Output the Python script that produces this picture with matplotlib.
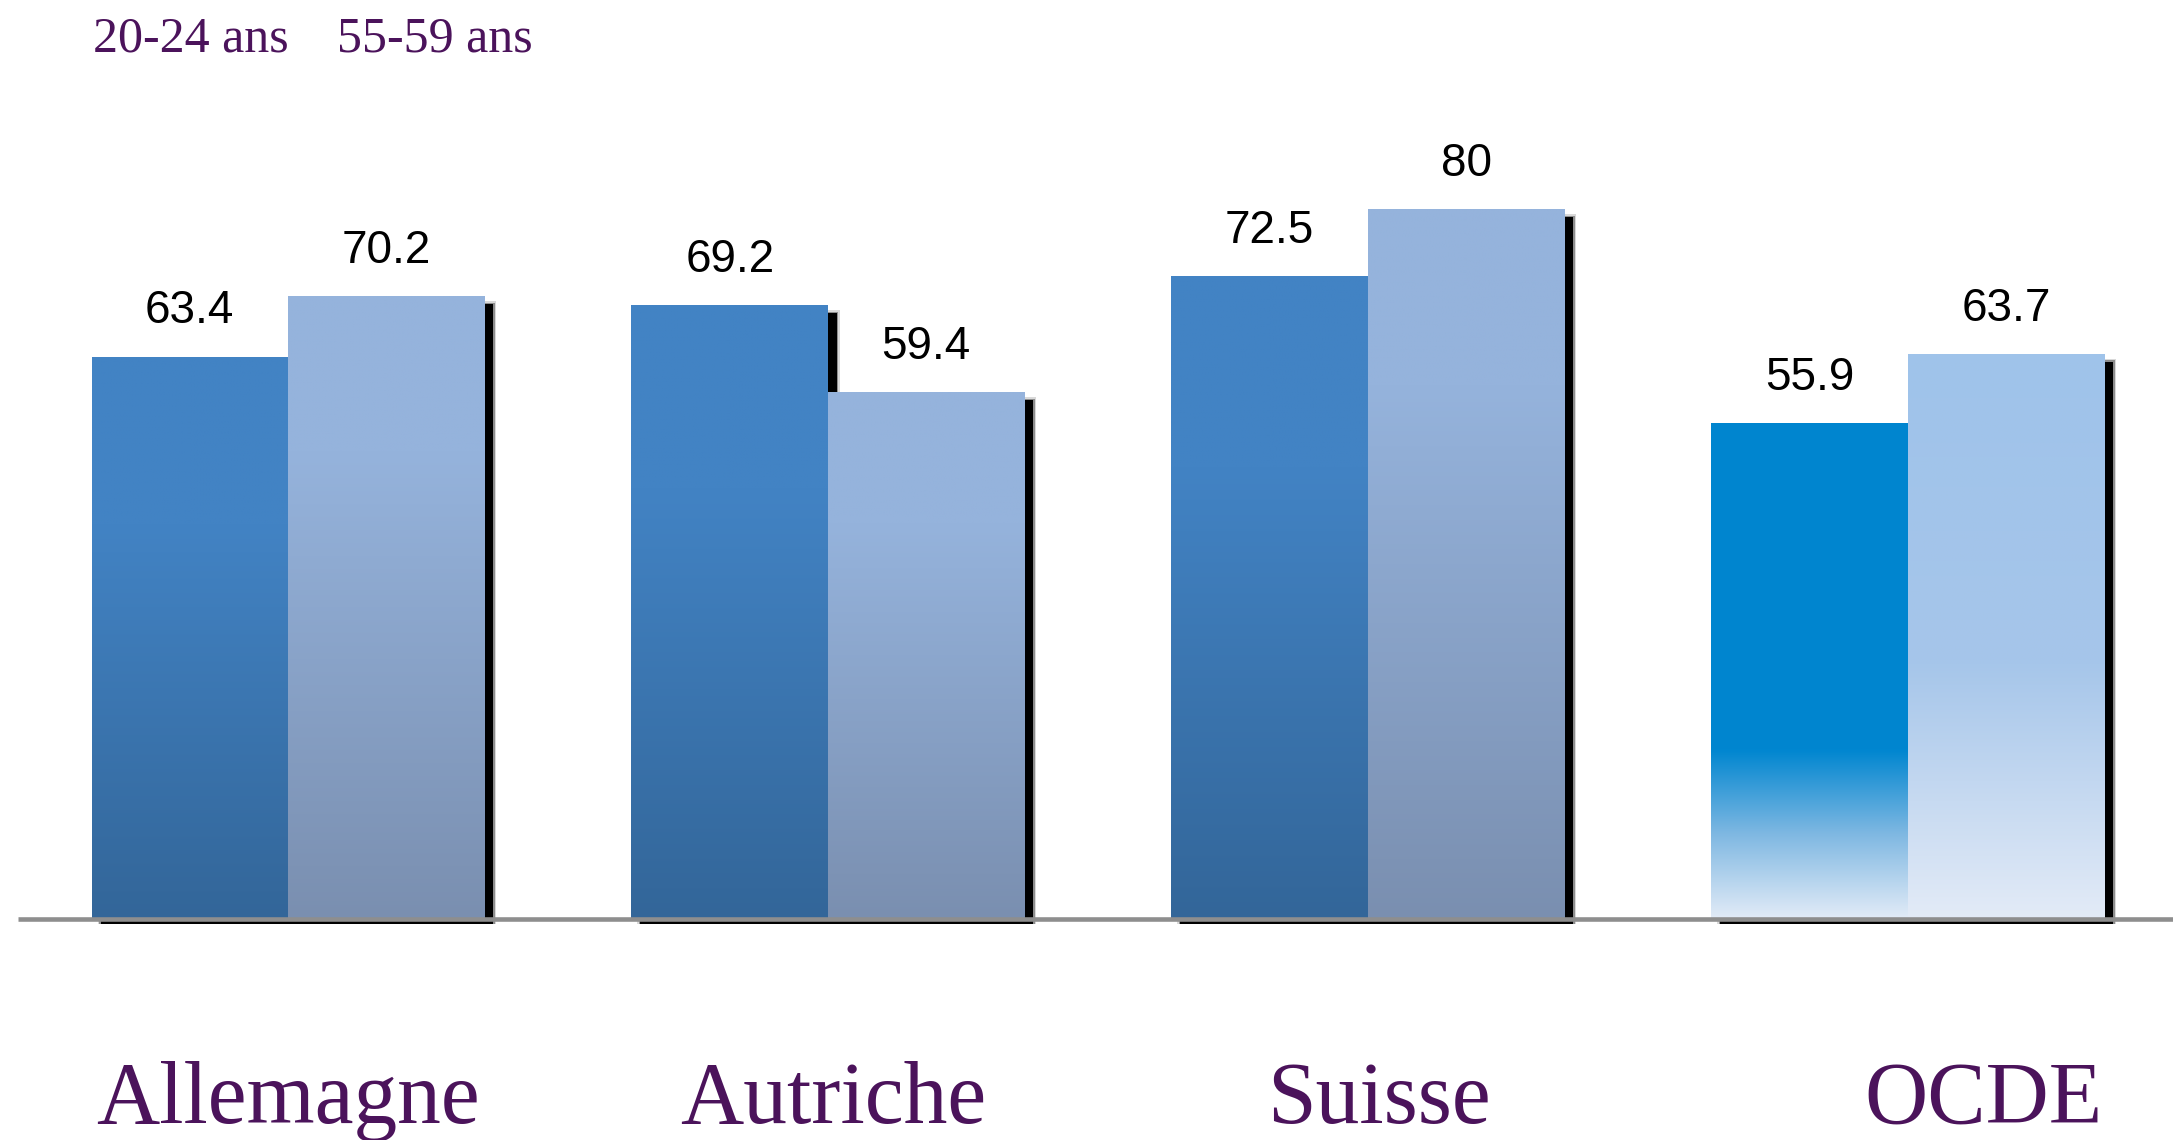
import matplotlib
matplotlib.use("Agg")
import matplotlib.pyplot as plt
import numpy as np
from matplotlib.colors import LinearSegmentedColormap
from matplotlib.patches import Rectangle

# data
pays = ['Allemagne', 'Autriche', 'Suisse', 'OCDE']
series = ['20-24 ans', '55-59 ans']
v_2024 = [63.4, 69.2, 72.5, 55.9]
v_5559 = [70.2, 59.4, 80, 63.7]

purple = '#4B135B'
# gradient stops from top (0) to bottom (1) of each bar
grad_dark = [(0, '#4283C4'), (0.3, '#4283C4'), (1, '#336699')]
grad_light = [(0, '#95B3DC'), (0.25, '#95B3DC'), (1, '#7A8FB0')]
grad_dark_ocde = [(0, '#0085CF'), (0.66, '#0086D0'), (0.83, '#7FB8E2'), (1, '#E2EBF7')]
grad_light_ocde = [(0, '#9FC3EA'), (0.55, '#A6C6EA'), (1, '#E3EBF7')]

# layout (pixels of the 2173x1140 figure)
W, H = 2173, 1140
base_px = 919          # baseline from top
ppu = 8.87             # pixels per unit on y
grp_px = 540           # pixels between groups
x0_px = 288            # centre of first group
bw = 196.5 / grp_px    # bar width in group units

fig = plt.figure(figsize=(W / 100, H / 100), dpi=100)
ax = fig.add_axes([0, 0, 1, 1])
ax.set_xlim(-x0_px / grp_px, (W - x0_px) / grp_px)
ax.set_ylim(-(H - base_px) / ppu, base_px / ppu)
ax.axis('off')
ax.set_autoscale_on(False)

px_x = 1 / grp_px
px_y = 1 / ppu

x = np.arange(len(pays))


def make_grad(stops):
    cm = LinearSegmentedColormap.from_list('g', stops)
    return cm(np.linspace(0, 1, 256))[:, None, :3]


def shadows(xs, vals):
    for xc, v in zip(xs, vals):
        left = xc - bw / 2 + 9 * px_x
        bottom = -5 * px_y
        top = v - 8 * px_y
        for grow, a in [(3, 0.15), (1.5, 0.35), (0, 1.0)]:
            ax.add_patch(Rectangle((left - grow * px_x, bottom), bw + 2 * grow * px_x,
                                   top - bottom + grow * px_y, color='black', alpha=a,
                                   lw=0, zorder=1))


xs_d = x - bw / 2
xs_l = x + bw / 2
shadows(xs_d, v_2024)
shadows(xs_l, v_5559)

bars_d = ax.bar(xs_d, v_2024, bw, color='none', zorder=2)
bars_l = ax.bar(xs_l, v_5559, bw, color='none', zorder=2)

for bars, vals, g, g_last in [(bars_d, v_2024, grad_dark, grad_dark_ocde),
                              (bars_l, v_5559, grad_light, grad_light_ocde)]:
    for i, (p, v) in enumerate(zip(bars, vals)):
        img = make_grad(g_last if i == len(pays) - 1 else g)
        im = ax.imshow(img, extent=[p.get_x(), p.get_x() + p.get_width(), 0, v],
                       aspect='auto', origin='upper', interpolation='bilinear', zorder=3)
        im.set_clip_path(p)
        ax.annotate(f'{v:g}', (p.get_x() + p.get_width() / 2, v), xytext=(0, 24),
                    textcoords='offset points', ha='center', va='baseline',
                    fontsize=33, family='Liberation Sans', color='black', zorder=5)

# baseline
ax.plot([-0.5, ax.get_xlim()[1]], [0, 0], color='#8E8E8E', lw=3.3, zorder=4,
        solid_capstyle='butt')

# category labels
label_shift = [0, 0.01, 0.02, 0.14]
for xi, name, s in zip(x, pays, label_shift):
    ax.text(xi + s, -(1123 - base_px) / ppu, name, ha='center', va='baseline',
            fontsize=63, family='Liberation Serif', color=purple)

# legend texts
fig.text(93 / W, 1 - 51 / H, series[0], ha='left', va='baseline', fontsize=36,
         family='Liberation Serif', color=purple)
fig.text(337 / W, 1 - 51 / H, series[1], ha='left', va='baseline', fontsize=36,
         family='Liberation Serif', color=purple)

fig.savefig('out.png', dpi=100, facecolor='white')
